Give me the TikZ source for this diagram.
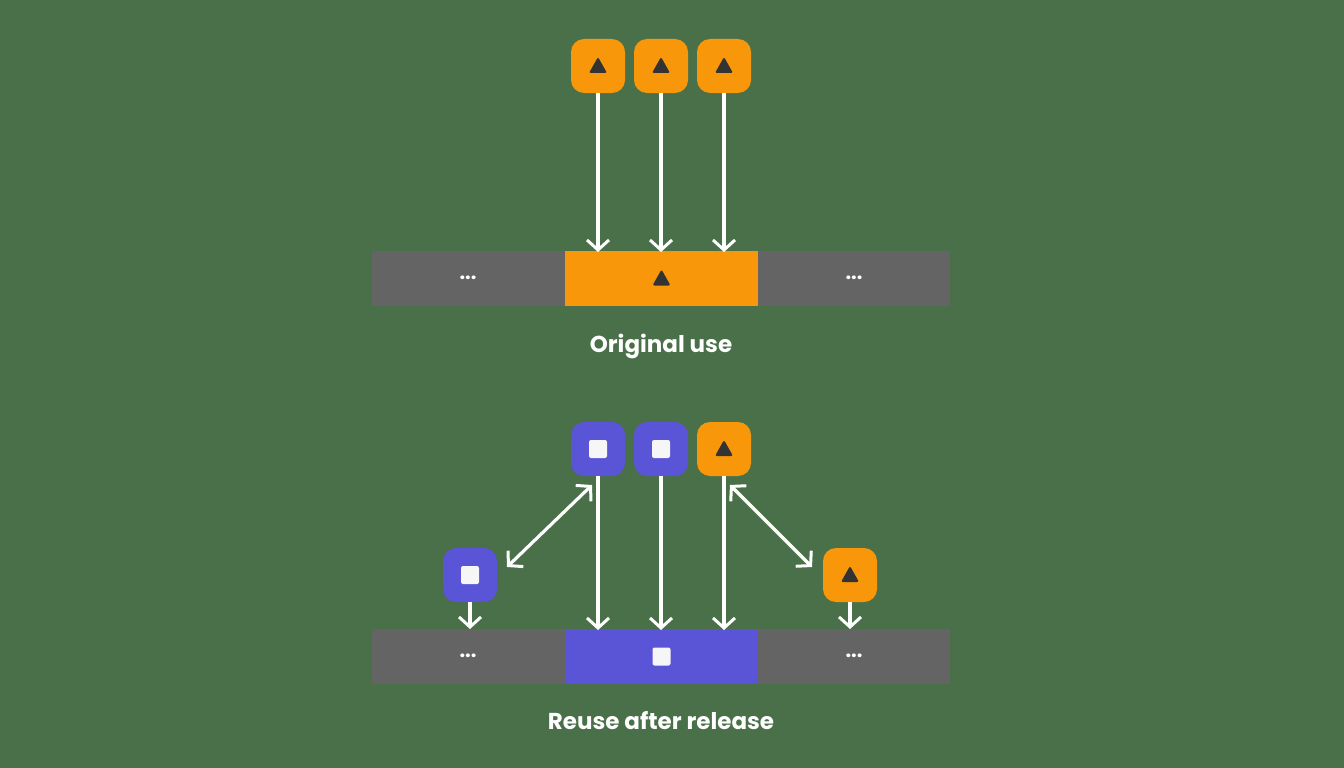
\documentclass[tikz,border=0pt]{standalone}
\usepackage{fontspec}
\setmainfont{Poppins}
\usetikzlibrary{arrows.meta,calc}
\definecolor{bg}{HTML}{4A7049}
\definecolor{org}{HTML}{F8970A}
\definecolor{pur}{HTML}{5A55D6}
\definecolor{gr}{HTML}{646464}
\definecolor{dk}{HTML}{333333}
\begin{document}
\begin{tikzpicture}[x=1pt,y=-1pt,
  tile/.style={minimum size=54pt,rounded corners=13pt,inner sep=0pt},
  otile/.style={tile,fill=org},
  ptile/.style={tile,fill=pur},
  tip/.tip={Straight Barb[length=10pt,width=22pt,line width=3pt]},
  arr/.style={draw=white,line width=3.2pt,-tip},
  darr/.style={draw=white,line width=3.2pt,tip-tip},
  lbl/.style={text=white,font=\bfseries\fontsize{23}{27}\selectfont},
  dots/.style={text=white,font=\bfseries\fontsize{20}{22}\selectfont}]
\fill[bg] (0,0) rectangle (1344,768);
\useasboundingbox (0,0) rectangle (1344,768);
\newcommand{\tri}[1]{\fill[dk,rounded corners=2pt] ($(#1)+(0,-9)$) -- ($(#1)+(9,7)$) -- ($(#1)+(-9,7)$) -- cycle;}
\newcommand{\sq}[1]{\fill[white!93!gray,rounded corners=2pt] ($(#1)+(-9,-9)$) rectangle ($(#1)+(9,9)$);}
% top
\node[otile] (a1) at (598,66) {};
\node[otile] (a2) at (661,66) {};
\node[otile] (a3) at (724,66) {};
\fill[gr] (372,251) rectangle (950,306);
\node[fill=org,minimum width=193pt,minimum height=55pt,inner sep=0pt] (am) at (661.5,278.5) {};
\node[dots] at (468,278) {...};
\node[dots] at (854,278) {...};
\foreach \n in {a1,a2,a3,am}{\tri{\n}}
\coordinate (t1) at (598,252); \coordinate (t2) at (661,252); \coordinate (t3) at (724,252);
\draw[arr] (a1.south) -- (t1);
\draw[arr] (a2.south) -- (t2);
\draw[arr] (a3.south) -- (t3);
\node[lbl] at (661,346) {Original use};
% bottom
\node[ptile] (b1) at (598,449) {};
\node[ptile] (b2) at (661,449) {};
\node[otile] (b3) at (724,449) {};
\node[ptile] (b4) at (470,575) {};
\node[otile] (b5) at (850,575) {};
\fill[gr] (372,629) rectangle (950,684);
\node[fill=pur,minimum width=193pt,minimum height=55pt,inner sep=0pt] (bm) at (661.5,656.5) {};
\node[dots] at (468,656) {...};
\node[dots] at (854,656) {...};
\foreach \n in {b1,b2,b4,bm}{\sq{\n}}
\foreach \n in {b3,b5}{\tri{\n}}
\coordinate (u1) at (598,630); \coordinate (u2) at (661,630); \coordinate (u3) at (724,630);
\coordinate (u4) at (470,629); \coordinate (u5) at (850,629);
\draw[arr] (b1.south) -- (u1);
\draw[arr] (b2.south) -- (u2);
\draw[arr] (b3.south) -- (u3);
\draw[arr] (b4.south) -- (u4);
\draw[arr] (b5.south) -- (u5);
\draw[darr] (507,567) -- (592,485);
\draw[darr] (730,485) -- (812,567);
\node[lbl] at (661,721) {Reuse after release};
\end{tikzpicture}
\end{document}
